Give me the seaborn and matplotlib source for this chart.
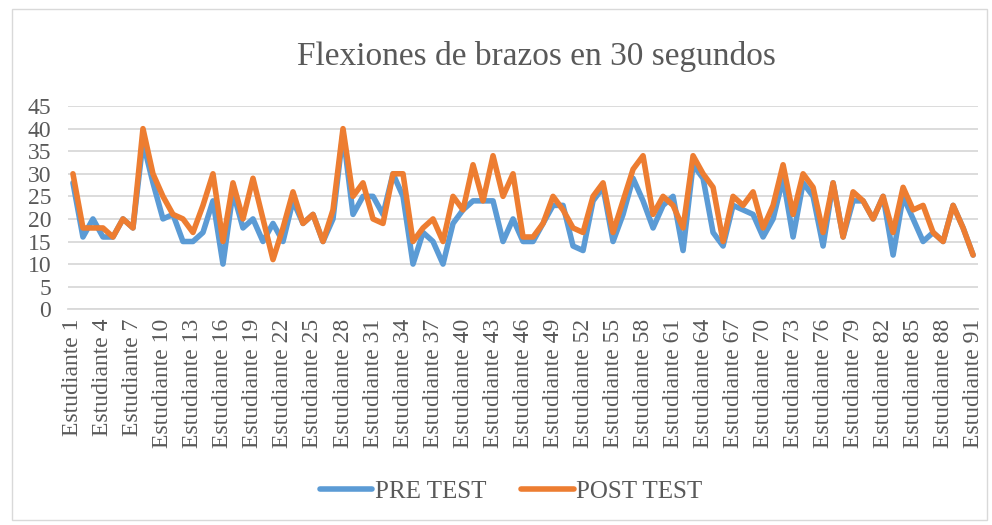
import matplotlib
matplotlib.use("Agg")
import matplotlib.pyplot as plt
import seaborn as sns
import pandas as pd
import numpy as np
from matplotlib.patches import Rectangle

# datos
estudiantes = [f"Estudiante {i}" for i in range(1, 92)]

pre_test = [28, 16, 20, 16, 16, 20, 18, 37, 28, 20,
            21, 15, 15, 17, 24, 10, 26, 18, 20, 15,
            19, 15, 24, 19, 21, 15, 20, 39, 21, 25,
            25, 21, 30, 25, 10, 17, 15, 10, 19, 22,
            24, 24, 24, 15, 20, 15, 15, 19, 23, 23,
            14, 13, 24, 27, 15, 21, 29, 24, 18, 23,
            25, 13, 32, 29, 17, 14, 23, 22, 21, 16,
            20, 29, 16, 28, 25, 14, 28, 16, 24, 24,
            20, 25, 12, 25, 20, 15, 17, 15, 23, 18,
            12]

post_test = [30, 18, 18, 18, 16, 20, 18, 40, 30, 25,
             21, 20, 17, 23, 30, 15, 28, 20, 29, 20,
             11, 18, 26, 19, 21, 15, 22, 40, 25, 28,
             20, 19, 30, 30, 15, 18, 20, 15, 25, 22,
             32, 24, 34, 25, 30, 16, 16, 19, 25, 22,
             18, 17, 25, 28, 17, 24, 31, 34, 21, 25,
             23, 18, 34, 30, 27, 15, 25, 23, 26, 18,
             23, 32, 21, 30, 27, 17, 28, 16, 26, 24,
             20, 25, 17, 27, 22, 23, 17, 15, 23, 18,
             12]

series = ["PRE TEST", "POST TEST"]
colores = {"PRE TEST": "#5B9BD5", "POST TEST": "#ED7D31"}
y_ticks = list(range(0, 50, 5))

df = pd.DataFrame({
    "pos": list(range(len(estudiantes))) * 2,
    "valor": pre_test + post_test,
    "serie": ["PRE TEST"] * len(pre_test) + ["POST TEST"] * len(post_test),
})

sns.set_style("white")
plt.rcParams['font.family'] = ['Liberation Serif', 'DejaVu Serif']
gris = "#595959"

fig = plt.figure(figsize=(9.92, 5.25), dpi=100)
ax = fig.add_axes([0.0685, 0.411, 0.9175, 0.387])

sns.lineplot(data=df, x="pos", y="valor", hue="serie", hue_order=series,
             palette=colores, linewidth=4, sort=False, ax=ax, legend=False,
             solid_joinstyle="round", solid_capstyle="round")

ax.set_xlim(-0.5, len(estudiantes) - 0.5)
ax.set_ylim(0, 45)
ax.set_yticks(y_ticks)
ax.set_yticklabels([str(t) for t in y_ticks], fontsize=17, color=gris)
ax.yaxis.grid(True, color="#D9D9D9", linewidth=1.3)
ax.set_axisbelow(True)

pos_lab = list(range(0, len(estudiantes), 3))
ax.set_xticks(pos_lab)
ax.set_xticklabels([estudiantes[p] for p in pos_lab], rotation=90,
                   fontsize=17, color=gris)
ax.set_xticks(np.arange(-0.5, len(estudiantes), 1), minor=True)
ax.tick_params(axis="x", which="major", length=0, pad=7)
ax.tick_params(axis="x", which="minor", length=5, width=1, color="#D9D9D9",
               direction="out")
ax.tick_params(axis="y", length=0, pad=12)

for s in ["top", "right", "left"]:
    ax.spines[s].set_visible(False)
ax.spines["bottom"].set_color("#D9D9D9")
ax.spines["bottom"].set_linewidth(1.3)
ax.set_xlabel("")
ax.set_ylabel("")

fig.text(0.541, 0.892, "Flexiones de brazos en 30 segundos",
         ha="center", va="center", fontsize=24, color=gris)

handles = [plt.Line2D([], [], color=colores[s], linewidth=4,
                      solid_capstyle="round") for s in series]
fig.legend(handles, series, loc="center", bbox_to_anchor=(0.515, 0.063),
           ncol=2, frameon=False, fontsize=18, labelcolor=gris,
           handlelength=2.1, handletextpad=0.1, columnspacing=1.4)

fig.add_artist(Rectangle((0.012, 0.01), 0.983, 0.972, transform=fig.transFigure,
                         fill=False, edgecolor="#D9D9D9", linewidth=1))

fig.savefig("out.png", dpi=100)
